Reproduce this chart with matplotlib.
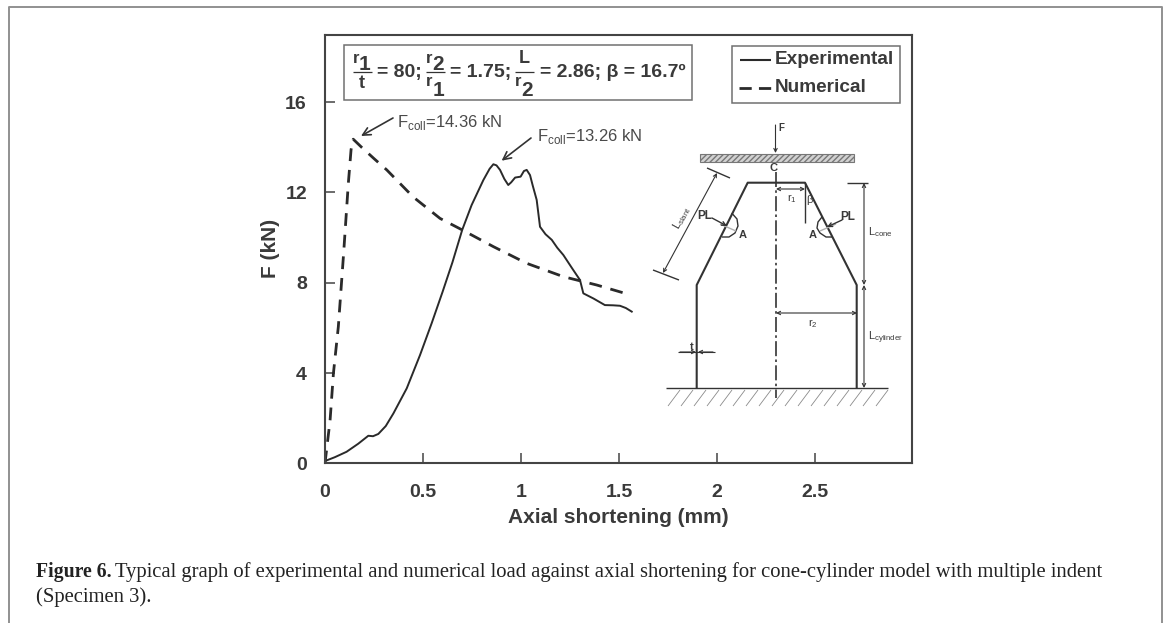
import matplotlib
matplotlib.use("Agg")
import matplotlib.pyplot as plt
from matplotlib.lines import Line2D
from matplotlib.patches import Rectangle

W, H = 1169, 623
plt.rcParams['font.family'] = ['Liberation Sans', 'DejaVu Sans']
plt.rcParams['mathtext.fontset'] = 'custom'
plt.rcParams['mathtext.rm'] = 'Liberation Sans'
plt.rcParams['mathtext.bf'] = 'Liberation Sans:bold'

exp_x = [0, 0.05, 0.11, 0.17, 0.221, 0.245, 0.272, 0.31, 0.349, 0.417, 0.485, 0.544, 0.6, 0.65, 0.70, 0.748, 0.808, 0.84, 0.859, 0.875, 0.893, 0.915, 0.935, 0.95, 0.97, 0.998, 1.015, 1.029, 1.046, 1.06, 1.08, 1.097, 1.125, 1.157, 1.185, 1.216, 1.26, 1.301, 1.318, 1.37, 1.428, 1.47, 1.505, 1.535, 1.565]
exp_y = [0.1, 0.27, 0.51, 0.87, 1.22, 1.2, 1.3, 1.65, 2.21, 3.32, 4.8, 6.2, 7.6, 8.9, 10.34, 11.44, 12.55, 13.05, 13.25, 13.2, 13.0, 12.6, 12.33, 12.45, 12.66, 12.7, 12.95, 13.0, 12.77, 12.3, 11.67, 10.48, 10.15, 9.9, 9.55, 9.23, 8.65, 8.12, 7.53, 7.3, 7.01, 7.0, 6.98, 6.88, 6.72]
num_x = [0, 0.026, 0.043, 0.068, 0.095, 0.119, 0.133, 0.144, 0.187, 0.25, 0.315, 0.45, 0.587, 0.70, 0.859, 1.029, 1.216, 1.386, 1.531]
num_y = [0, 1.92, 3.99, 6.05, 9.3, 12.4, 13.9, 14.36, 14.0, 13.5, 13.0, 11.8, 10.85, 10.34, 9.6, 8.86, 8.27, 7.9, 7.53]
x_ticks = [0, 0.5, 1, 1.5, 2, 2.5]
x_labels = ['0', '0.5', '1', '1.5', '2', '2.5']
y_ticks = [0, 4, 8, 12, 16]

INK = '#3a3a3a'
fig = plt.figure(figsize=(W / 100, H / 100), dpi=100)
fx = [9 / W, 9 / W, 1162 / W, 1162 / W]
fy = [0, 1 - 7 / H, 1 - 7 / H, 0]
fig.add_artist(Line2D(fx, fy, transform=fig.transFigure, color='#909090', lw=1.4))

L, R, T, B = 325, 912, 34.5, 463.3
ax = fig.add_axes([L / W, 1 - B / H, (R - L) / W, (B - T) / H])
ax.set_xlim(0, (R - L) / 196)
ax.set_ylim(0, (B - T) / 22.57)
for s in ax.spines.values():
    s.set_color('#444444'); s.set_linewidth(1.5)
ax.plot(exp_x, exp_y, color='#2a2a2a', lw=1.4)
ax.plot(num_x, num_y, color='#2a2a2a', lw=2, dashes=(4.6, 3.2))
ax.set_xticks(x_ticks, x_labels)
ax.set_yticks(y_ticks)
ax.tick_params(axis='x', direction='in', length=7, width=1.1, color='#444444', labelsize=14, labelcolor=INK, pad=15)
ax.tick_params(axis='y', direction='in', length=7, width=1.1, color='#444444', labelsize=14, labelcolor=INK, pad=13)
for t in ax.get_xticklabels() + ax.get_yticklabels():
    t.set_fontweight('bold')
ax.set_xlabel('Axial shortening (mm)', fontsize=15, fontweight='bold', color=INK, labelpad=5)
ax.set_ylabel('F (kN)', fontsize=15, fontweight='bold', color=INK, labelpad=4)

def px(x, y):
    return (x - L) / 196, (B - y) / 22.57

def txt(x, y, s, size=7, weight='normal', ha='center', **kw):
    ax.text(*px(x, y), s, fontsize=size, fontweight=weight, ha=ha, va='center', color=kw.pop('color', INK), **kw)

def line(xs, ys, **kw):
    kw.setdefault('color', '#333333'); kw.setdefault('lw', 1.3)
    pts = [px(a, b) for a, b in zip(xs, ys)]
    ax.plot([p[0] for p in pts], [p[1] for p in pts], solid_capstyle='butt', **kw)

def arrow(x0, y0, x1, y1, style='->', lw=0.8, ms=6):
    ax.annotate('', xy=px(x1, y1), xytext=px(x0, y0),
                arrowprops=dict(arrowstyle=style, color='#333333', lw=lw, shrinkA=0, shrinkB=0, mutation_scale=ms))

# parameter box
ax.add_patch(Rectangle(px(344, 100), 348 / 196, 55 / 22.57, fill=False, ec='#707070', lw=1.1))
for x0, x1 in [(353, 372), (426, 445), (515, 534)]:
    line([x0, x1], [72.3, 72.3], lw=0.9)
for x, y, s, sz in [(356, 58, 'r', 12), (364, 65, '1', 15), (362, 83, 't', 13),
                    (429, 58, 'r', 12), (438, 65, '2', 15), (429, 82, 'r', 12), (438, 90, '1', 15),
                    (524, 58, 'L', 13), (518, 82, 'r', 12), (527, 90, '2', 15)]:
    txt(x, y, s, sz, 'bold')
txt(377, 72, '= 80;', 14, 'bold', ha='left')
txt(450, 72, '= 1.75;', 14, 'bold', ha='left')
txt(540, 72, '= 2.86; β = 16.7º', 14, 'bold', ha='left')

# legend box
ax.add_patch(Rectangle(px(732, 102.7), 168 / 196, 57 / 22.57, fill=False, ec='#707070', lw=1.1))
line([740, 771], [59.5, 59.5], color='#2a2a2a', lw=1.5)
line([739, 771], [88, 88], color='#2a2a2a', lw=2, dashes=(4.4, 2.6))
txt(775, 59, 'Experimental', 13.7, 'bold', ha='left')
txt(775, 87.5, 'Numerical', 13.7, 'bold', ha='left')

# collapse load notes
txt(397, 122.5, 'F$_{\\mathrm{coll}}$=14.36 kN', 12, ha='left', color='#4a4a4a')
txt(537, 137, 'F$_{\\mathrm{coll}}$=13.26 kN', 12, ha='left', color='#4a4a4a')
arrow(393, 118, 361, 136, lw=1.2, ms=14)
arrow(531, 138, 501.6, 160.7, lw=1.2, ms=14)

# schematic
ax.add_patch(Rectangle(px(700, 162), 154 / 196, 8 / 22.57, fc='#d2d2d2', ec='#777777', lw=0.8, hatch='//////'))
line([696.7, 696.7, 747.7, 805, 856.7, 856.7], [388, 285, 182.7, 182.7, 285, 388], lw=1.5)
line([776, 776], [172, 398], lw=1.2, dashes=(9, 2, 1.5, 2))
line([666, 888], [388, 388], lw=1)
for xb in range(668, 884, 13):
    line([xb, xb + 12], [406, 390], lw=0.6, color='#8a8a8a')
arrow(775.5, 125, 775.5, 153)
txt(781, 128, 'F', 7, 'bold')
txt(773, 168, 'C', 8, 'bold')
arrow(776, 189, 805, 189, '<->')
txt(792, 199, 'r$_1$', 8)
line([805, 805], [183, 222.7], lw=1)
txt(809, 200, 'β', 8)
arrow(776, 313, 857, 313, '<->')
txt(813, 324, 'r$_2$', 8)
line([847, 868], [183, 183], lw=1)
arrow(864, 183, 864, 285, '<->')
arrow(864, 285, 864, 388, '<->')
txt(868, 232.5, 'L$_{\\mathrm{cone}}$', 8, ha='left')
txt(868, 338, 'L$_{\\mathrm{cylinder}}$', 8, ha='left')
line([678, 715], [352, 352], lw=0.8)
arrow(680, 352, 696, 352)
arrow(713, 352, 698, 352)
txt(692, 347, 't', 8, 'bold')
line([707, 730], [168, 178], lw=1)
line([653, 679], [270, 280], lw=1)
arrow(717, 173, 663, 273, '<->')
txt(682, 218, 'L$_{\\mathrm{slant}}$', 8, rotation=61)
txt(743, 235, 'A', 8, 'bold')
txt(813, 235, 'A', 8, 'bold')
txt(705, 216, 'PL', 8.5, 'bold')
txt(848, 217, 'PL', 8.5, 'bold')
line([731.7, 737, 738, 735, 729, 722], [213, 219, 226, 233, 237, 237], lw=1)
line([822, 818, 817, 820, 826, 833], [217, 222, 228, 233, 237, 237], lw=1)
line([720, 736], [224, 231], lw=1, color='#b0b0b0')
line([820, 836], [231, 224], lw=1, color='#b0b0b0')
arrow(712, 218, 727, 226, lw=1, ms=7)
arrow(842, 220, 827, 227, lw=1, ms=7)

# caption
fig.text(36 / W, 1 - 572 / H, 'Figure 6.', fontsize=14.2, fontweight='bold', family='Liberation Serif', color='#222222', va='center')
fig.text(115 / W, 1 - 572 / H, 'Typical graph of experimental and numerical load against axial shortening for cone-cylinder model with multiple indent', fontsize=14.85, family='Liberation Serif', color='#222222', va='center')
fig.text(36 / W, 1 - 597 / H, '(Specimen 3).', fontsize=14.85, family='Liberation Serif', color='#222222', va='center')

fig.savefig('out.png', dpi=100)
